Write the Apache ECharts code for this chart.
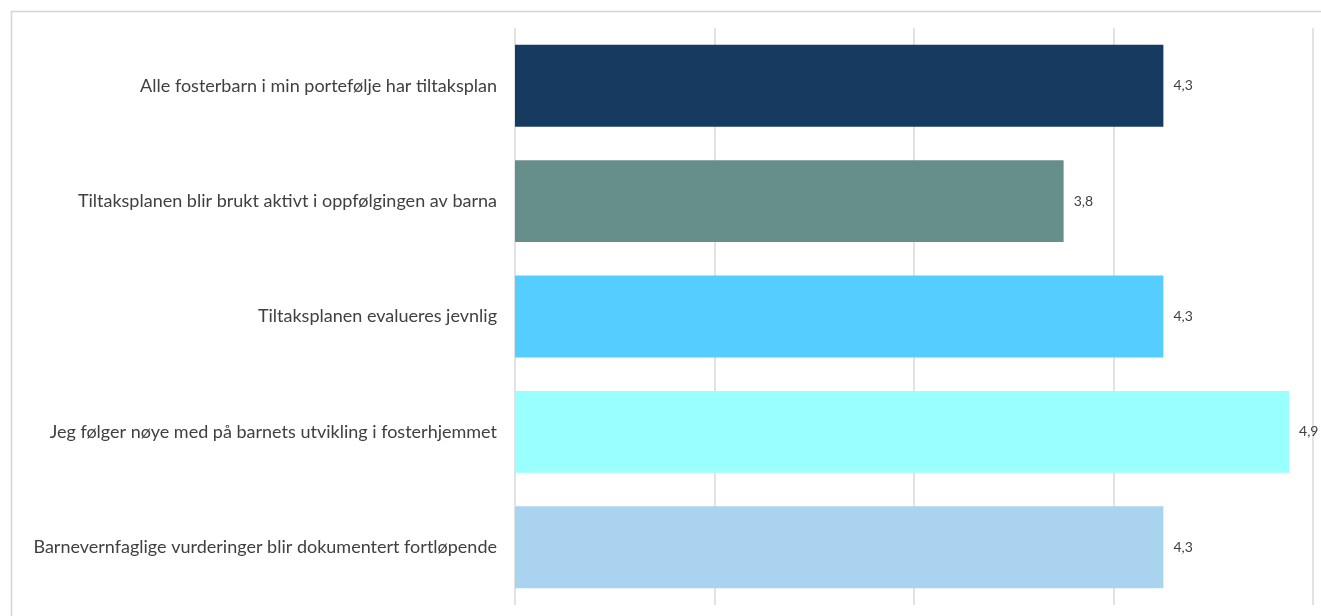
<!DOCTYPE html>
<html>
<head>
<meta charset="utf-8">
<script src="https://cdn.jsdelivr.net/npm/echarts@6/dist/echarts.min.js"></script>
<style>
html,body{margin:0;padding:0;background:#fff;}
#chart{width:1321px;height:616px;}
</style>
</head>
<body>
<div id="chart"></div>
<script>
// Data (top to bottom as shown)
const categories = [
  "Alle fosterbarn i min portefølje har tiltaksplan",
  "Tiltaksplanen blir brukt aktivt i oppfølgingen av barna",
  "Tiltaksplanen evalueres jevnlig",
  "Jeg følger nøye med på barnets utvikling i fosterhjemmet",
  "Barnevernfaglige vurderinger blir dokumentert fortløpende"
];
const values = [4.25, 3.75, 4.25, 4.88, 4.25];
const barColors = ["#173a60", "#668f8b", "#55cdff", "#99ffff", "#a9d3ee"];
const axisMin = 1;
const axisMax = 5;
const axisInterval = 1;

const chart = echarts.init(document.getElementById('chart'), null, {renderer: 'canvas'});
const option = {
  backgroundColor: '#ffffff',
  animation: false,
  graphic: [{
    type: 'rect',
    left: 9, top: 9,
    shape: {width: 1400, height: 700},
    style: {fill: 'none', stroke: '#d4d4d4', lineWidth: 1.5},
    silent: true
  }],
  grid: {left: 515, right: 8, top: 28, bottom: 11, containLabel: false},
  xAxis: {
    type: 'value',
    min: axisMin, max: axisMax, interval: axisInterval,
    axisLabel: {show: false},
    axisLine: {show: false},
    axisTick: {show: false},
    splitLine: {show: true, lineStyle: {color: '#d9d9d9', width: 1.5}}
  },
  yAxis: {
    type: 'category',
    inverse: true,
    data: categories,
    axisLine: {show: false},
    axisTick: {show: false},
    axisLabel: {
      margin: 18,
      color: '#404040',
      fontFamily: 'Lato, "Open Sans", sans-serif',
      fontSize: 18
    }
  },
  series: [{
    type: 'bar',
    data: values.map((v, i) => ({value: v, itemStyle: {color: barColors[i]}})),
    barCategoryGap: '29%',
    label: {
      show: true,
      position: 'right',
      distance: 10,
      color: '#404040',
      fontFamily: 'Lato, "Open Sans", sans-serif',
      fontSize: 14,
      formatter: p => p.value.toFixed(1).replace('.', ',')
    }
  }]
};
chart.setOption(option);
</script>
</body>
</html>
